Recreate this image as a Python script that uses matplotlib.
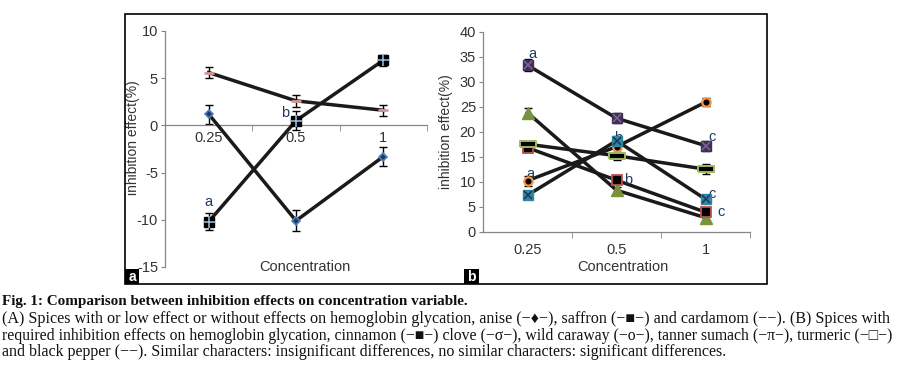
import matplotlib.pyplot as plt
from matplotlib.patches import Rectangle

plt.rcParams['font.family'] = ['Liberation Sans', 'DejaVu Sans']
plt.rcParams['axes.unicode_minus'] = False

W, H = 898, 381

# 数据
conc = ['0.25', '0.5', '1']

# 图 a
anise = [1.2, -10.1, -3.3]
anise_err = [1.0, 1.1, 1.0]
saffron = [-10.2, 0.5, 6.9]
saffron_err = [0.9, 1.0, 0.6]
cardamom = [5.6, 2.6, 1.6]
cardamom_err = [0.6, 0.6, 0.6]

# 图 b
clove = [33.3, 22.7, 17.2]
clove_err = [1.2, 1.0, 1.0]
caraway = [10.2, 17.0, 25.9]
caraway_err = [1.0, 1.0, 0.8]
turmeric = [7.3, 18.2, 6.5]
turmeric_err = [0.5, 1.0, 0.6]
sumach = [23.8, 8.3, 2.8]
sumach_err = [1.0, 0.7, 0.9]
cinnamon = [16.8, 10.3, 3.9]
cinnamon_err = [0.9, 0.6, 0.5]
pepper = [17.5, 15.2, 12.5]
pepper_err = [0.6, 0.8, 1.0]

# 显著性字母
letters_a = [('a', 0, -8.1, 0.0), ('b', 1, 1.3, -0.13)]
letters_b = [('a', 0, 35.5, 0.05), ('a', 0, 11.5, 0.03), ('b', 1, 18.8, 0.02),
             ('b', 1, 10.3, 0.13), ('c', 2, 19.0, 0.07), ('c', 2, 7.6, 0.07),
             ('c', 2, 4.0, 0.18)]

line_c = '#1a1a1a'
grey = '#868686'
txt_c = '#333333'
let_c = '#1f3864'

fig = plt.figure(figsize=(W / 100, H / 100), dpi=100)


def px_axes(l, t, r, b):
    return fig.add_axes([l / W, 1 - b / H, (r - l) / W, (b - t) / H])


def series(ax, y, err, marker, ms, fc, ec, mew=1.0, over=None):
    x = [i + 0.5 for i in range(len(y))]
    ax.errorbar(x, y, yerr=err, fmt='none', ecolor='black', elinewidth=1,
                capsize=3, capthick=1, zorder=2)
    ax.plot(x, y, color=line_c, lw=2.5, zorder=3)
    ax.plot(x, y, ls='none', marker=marker, ms=ms, mfc=fc, mec=ec, mew=mew, zorder=4)
    if over is not None:
        m2, ms2, c2 = over
        ax.plot(x, y, ls='none', marker=m2, ms=ms2, mec=c2, mew=1.1, zorder=5)


def style(ax, pad):
    for s in ['top', 'right']:
        ax.spines[s].set_visible(False)
    for s in ['left', 'bottom']:
        ax.spines[s].set_color(grey)
        ax.spines[s].set_linewidth(0.9)
    ax.set_xlim(0, 3)
    ax.set_xticks([0.5, 1.5, 2.5])
    ax.set_xticklabels(conc)
    ax.set_xticks([1, 2, 3], minor=True)
    ax.tick_params(axis='x', which='major', length=0, pad=pad, labelsize=10.5, labelcolor=txt_c)
    ax.tick_params(axis='x', which='minor', length=4, direction='out', color=grey)
    ax.tick_params(axis='y', length=3, direction='out', color=grey, labelsize=10.5,
                   labelcolor=txt_c, pad=2)
    ax.patch.set_alpha(0)


# 图 a
axa = px_axes(165, 31, 427, 267)
series(axa, anise, anise_err, 'D', 4, '#1f3864', '#4f81bd', 1.2)
series(axa, saffron, saffron_err, 's', 7, 'black', 'black', 1.0, ('+', 8, '#9dc3e6'))
series(axa, cardamom, cardamom_err, '_', 7, '#d99694', '#d99694', 2.0)
axa.set_ylim(-15, 10)
axa.set_yticks([-15, -10, -5, 0, 5, 10])
style(axa, 4)
axa.spines['bottom'].set_position(('data', 0))
axa.set_ylabel('inhibition effect(%)', fontsize=10, color=txt_c)
axa.yaxis.set_label_coords(-0.095, 0.55)
axa.text(0.534, 0.0, 'Concentration', transform=axa.transAxes, ha='center',
         va='center', fontsize=10.5, color=txt_c)
for t, i, y, dx in letters_a:
    axa.text(i + 0.5 + dx, y, t, ha='center', va='center', fontsize=10.5, color=let_c)

# 图 b
axb = px_axes(483, 31.7, 750, 231.7)
rect_verts = [(-3, -1), (3, -1), (3, 1), (-3, 1), (-3, -1)]
series(axb, clove, clove_err, 's', 7, '#3f3151', '#3f3151', 1.0, ('x', 6, '#8064a2'))
series(axb, caraway, caraway_err, 'o', 6, 'black', '#f79646', 1.6)
series(axb, turmeric, turmeric_err, 's', 7, '#31859c', '#31859c', 1.0, ('x', 6, '#17375e'))
series(axb, sumach, sumach_err, '^', 9, '#77933c', '#77933c', 1.0)
series(axb, cinnamon, cinnamon_err, 's', 7, 'black', '#c0504d', 1.3)
series(axb, pepper, pepper_err, rect_verts, 11, 'black', '#9bbb59', 1.4)
axb.set_ylim(0, 40)
axb.set_yticks(range(0, 41, 5))
style(axb, 8)
axb.set_ylabel('inhibition effect(%)', fontsize=10, color=txt_c)
axb.yaxis.set_label_coords(-0.112, 0.5)
axb.text(0.524, -0.1765, 'Concentration', transform=axb.transAxes, ha='center',
         va='center', fontsize=10.5, color=txt_c)
for t, i, y, dx in letters_b:
    axb.text(i + 0.5 + dx, y, t, ha='center', va='center', fontsize=10.5, color=let_c)

# 外框和角标
def frect(l, t, r, b, **kw):
    fig.patches.append(Rectangle((l / W, 1 - b / H), (r - l) / W, (b - t) / H,
                                 transform=fig.transFigure, **kw))

frect(125, 14, 767, 284, fill=False, ec='black', lw=1.2)
frect(125, 269, 139, 284, fc='black', ec='none')
frect(464, 269, 479, 284, fc='black', ec='none')
fig.text(132 / W, 1 - 277 / H, 'a', color='white', ha='center', va='center',
         fontsize=10, fontweight='bold')
fig.text(471.5 / W, 1 - 277 / H, 'b', color='white', ha='center', va='center',
         fontsize=10, fontweight='bold')

# 图注
cap = [
    ('Fig. 1: Comparison between inhibition effects on concentration variable.', 'bold', 10.9),
    ('(A) Spices with or low effect or without effects on hemoglobin glycation, anise (\u2212\u2666\u2212), '
     'saffron (\u2212\u25a0\u2212) and cardamom (\u2212\u2212). (B) Spices with', 'normal', 11.6),
    ('required inhibition effects on hemoglobin glycation, cinnamon (\u2212\u25a0\u2212) clove (\u2212\u03c3\u2212), '
     'wild caraway (\u2212o\u2212), tanner sumach (\u2212\u03c0\u2212), turmeric (\u2212\u25a1\u2212)', 'normal', 11.35),
    ('and black pepper (\u2212\u2212). Similar characters: insignificant differences, '
     'no similar characters: significant differences.', 'normal', 11.5),
]
for k, (s, w, fs) in enumerate(cap):
    fig.text(2 / W, 1 - (302 + 16.8 * k) / H, s, ha='left', va='center',
             fontsize=fs, fontweight=w, color='#111111',
             family=['Liberation Serif', 'DejaVu Serif'])

plt.savefig('out.png', dpi=100)
